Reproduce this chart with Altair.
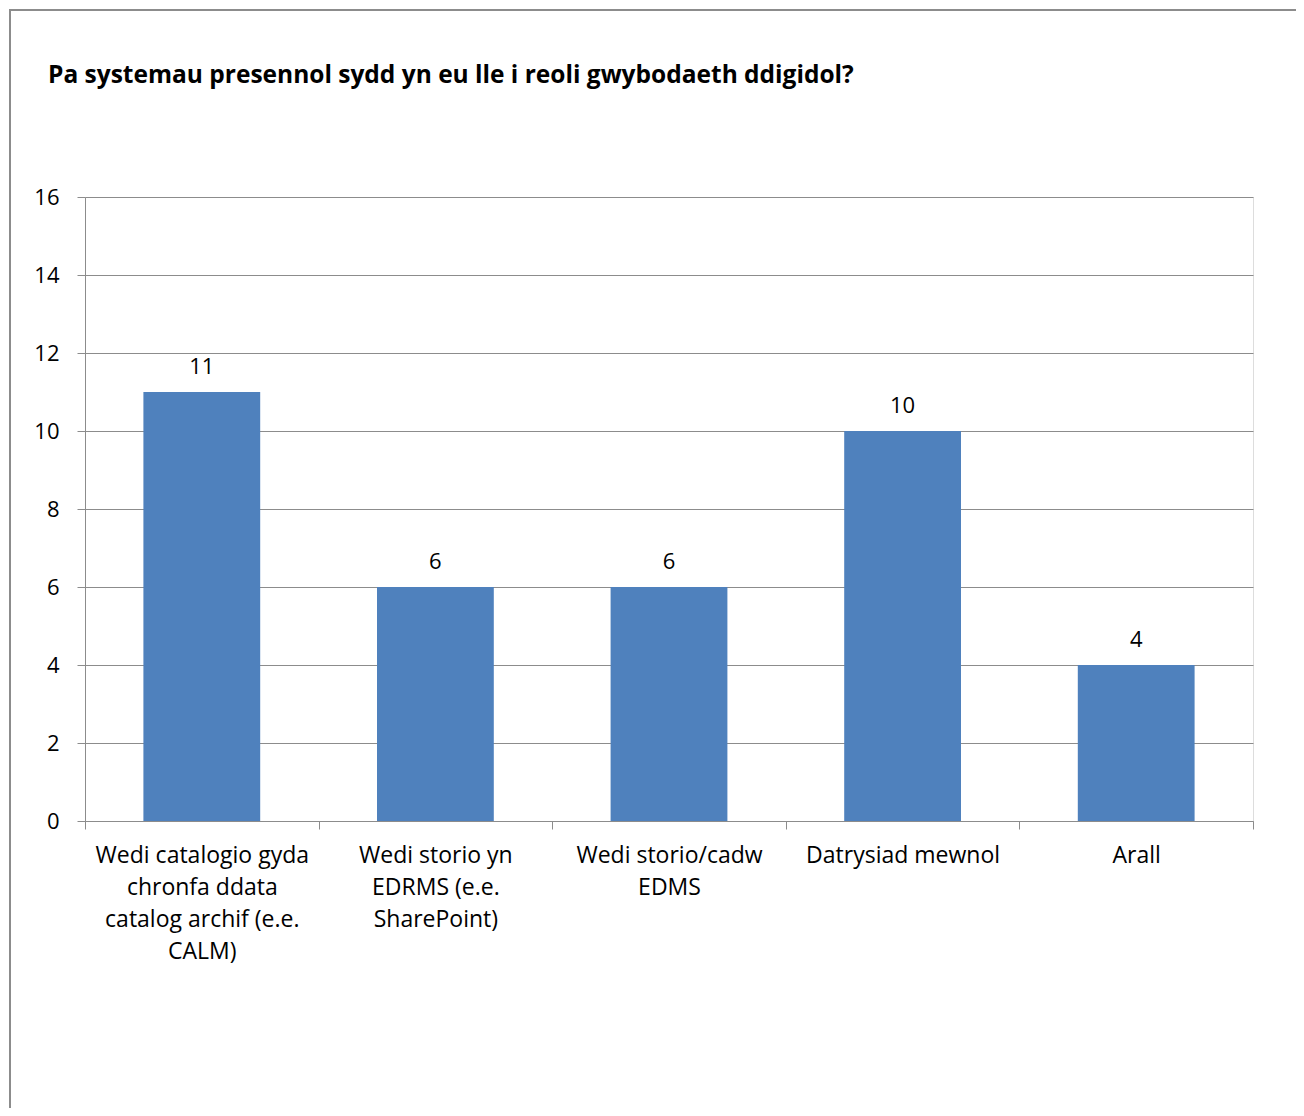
import altair as alt
import pandas as pd

categories = [
    "Wedi catalogio gyda\nchronfa ddata\ncatalog archif (e.e.\nCALM)",
    "Wedi storio yn\nEDRMS (e.e.\nSharePoint)",
    "Wedi storio/cadw\nEDMS",
    "Datrysiad mewnol",
    "Arall",
]
values = [11, 6, 6, 10, 4]
title_text = "Pa systemau presennol sydd yn eu lle i reoli gwybodaeth ddigidol?"

df = pd.DataFrame({"cat": categories, "val": values})

FONT = "Open Sans"
GRID = "#8c8c8c"
FS_NUM = 22
FS_CAT = 23

x_enc = alt.X(
    "cat:N",
    sort=categories,
    title=None,
    scale=alt.Scale(paddingInner=0, paddingOuter=0),
    axis=alt.Axis(
        labelAngle=0,
        labelExpr="split(datum.label, '\\n')",
        labelFont=FONT,
        labelFontSize=FS_CAT,
        labelColor="#000000",
        labelLineHeight=32,
        labelPadding=15,
        labelLimit=0,
        tickBand="extent",
        tickColor=GRID,
        tickSize=8,
        domainColor=GRID,
        labelBaseline="top",
    ),
)
y_enc = alt.Y(
    "val:Q",
    title=None,
    scale=alt.Scale(domain=[0, 16]),
    axis=alt.Axis(
        values=list(range(0, 17, 2)),
        labelFont=FONT,
        labelFontSize=FS_NUM,
        labelColor="#000000",
        labelPadding=18,
        tickColor=GRID,
        tickSize=8,
        domainColor=GRID,
        gridColor=GRID,
        grid=True,
    ),
)

bars = alt.Chart(df).mark_bar(
    color="#4F81BD", width=alt.RelativeBandSize(0.5)
).encode(x=x_enc, y=y_enc)
labels = alt.Chart(df).mark_text(
    font=FONT, fontSize=FS_NUM, color="#000000", baseline="alphabetic", dy=-18
).encode(x=alt.X("cat:N", sort=categories), y="val:Q", text="val:Q")

frame = alt.Chart(df).mark_rect(
    fill=None, fillOpacity=0, stroke="#8c8c8c", strokeWidth=2, clip=False
).encode(
    x=alt.value(-75), x2=alt.value(1212), y=alt.value(-187), y2=alt.value(930)
)

chart = (
    alt.layer(frame, bars, labels)
    .properties(
        width=1168,
        height=624,
        autosize=alt.AutoSizeParams(type="none"),
        padding={"left": 77, "top": 189, "right": 43, "bottom": 287},
        title=alt.TitleParams(
            title_text,
            anchor="start",
            font=FONT,
            fontSize=24.5,
            fontWeight="bold",
            color="#000000",
            dx=39,
            offset=0,
            dy=98,
            baseline="alphabetic",
        ),
    )
    .configure_view(stroke=None)
    .configure(background="white")
)

chart.save("out.html", embed_options={"renderer": "svg", "actions": False})
